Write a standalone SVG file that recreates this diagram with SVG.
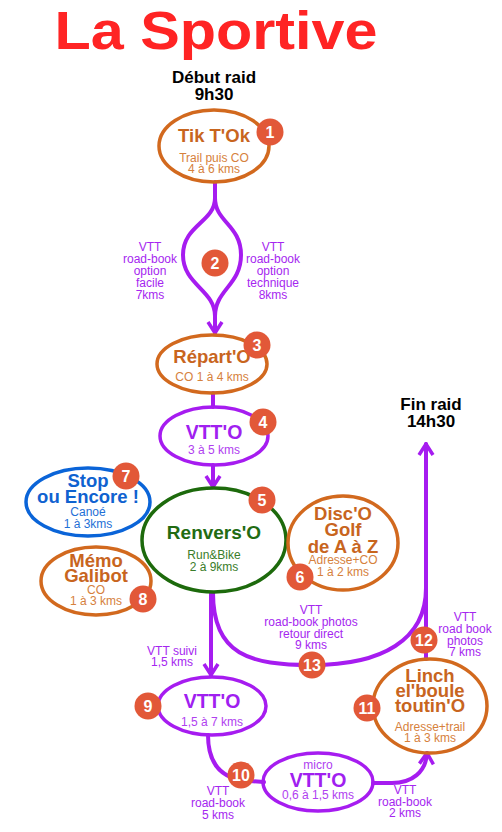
<svg xmlns="http://www.w3.org/2000/svg" width="502" height="832" viewBox="0 0 502 832">
<defs>
<style>
text{font-family:"Liberation Sans",Arial,sans-serif;text-anchor:middle}
.title{font-size:54px;font-weight:bold;fill:#ff2424}
.time{font-size:17px;font-weight:bold;fill:#000}
.nt{font-size:18.5px;font-weight:bold}
.sm{font-size:12px}
.lbl{font-size:12px;fill:#a526f0}
.or{fill:none;stroke:#d2691e;stroke-width:3.5}
.pu{fill:none;stroke:#a61cf0;stroke-width:3.5}
.gr{fill:none;stroke:#1d6a0c;stroke-width:3.5}
.bl{fill:none;stroke:#0a64d8;stroke-width:3.5}
.ot{fill:#c8651e}.os{fill:#d6813c}
.pt{fill:#a020f0}.ps{fill:#b040f0}
.gt{fill:#226b12}.gs{fill:#3a7d2a}
.bt{fill:#0f62d0}.bs{fill:#1e6fd6}
.badge circle{fill:#e25838}
.badge text{font-size:16px;font-weight:bold;fill:#fff}
.con{fill:none;stroke:#a61cf0;stroke-width:4;stroke-linecap:round}
</style>
<marker id="ah" viewBox="-13 -9 15 18" refX="0" refY="0" markerWidth="15" markerHeight="18" markerUnits="userSpaceOnUse" orient="auto">
<path d="M -11 -7 L 0 0 L -11 7" fill="none" stroke="#a61cf0" stroke-width="3.5"/>
</marker>
</defs>
<rect width="502" height="832" fill="#fff"/>
<text class="title" x="216" y="49" textLength="323" lengthAdjust="spacingAndGlyphs">La Sportive</text>
<g id="debut"><text class="time" x="214" y="83">Début raid</text><text class="time" x="214" y="100">9h30</text></g>
<g id="fin"><text class="time" x="431" y="410">Fin raid</text><text class="time" x="431" y="427">14h30</text></g>

<g id="connectors">
<path class="con" d="M 215 182 L 215 198 C 215 222 183 225 183 255 C 183 285 215 290 215 316"/>
<path class="con" d="M 215 198 C 215 222 241 225 241 255 C 241 285 215 290 215 316"/>
<path class="con" d="M 215 316 L 215 333" marker-end="url(#ah)"/>
<path class="con" d="M 213 393 L 213 407"/>
<path class="con" d="M 213 465 L 213 487" marker-end="url(#ah)"/>
<path class="con" d="M 211 593 L 211 675" marker-end="url(#ah)"/>
<path class="con" d="M 213 593 C 213 655 250 665 312 665 C 382 665 426 640 426 588"/>
<path class="con" d="M 426 659 L 426 444" marker-end="url(#ah)"/>
<path class="con" d="M 208 735 C 208 768 225 780 250 781 L 264 782"/>
<path class="con" d="M 373 783 L 392 783 C 412 783 426 772 427 753" marker-end="url(#ah)"/>
<g id="labels">
<text class="lbl" x="150" y="251">VTT</text><text class="lbl" x="150" y="263">road-book</text><text class="lbl" x="150" y="275">option</text><text class="lbl" x="150" y="287">facile</text><text class="lbl" x="150" y="299">7kms</text>
<text class="lbl" x="273" y="251">VTT</text><text class="lbl" x="273" y="263">road-book</text><text class="lbl" x="273" y="275">option</text><text class="lbl" x="273" y="287">technique</text><text class="lbl" x="273" y="299">8kms</text>
<text class="lbl" x="311" y="614">VTT</text><text class="lbl" x="311" y="626">road-book photos</text><text class="lbl" x="311" y="638">retour direct</text><text class="lbl" x="311" y="649">9 kms</text>
<text class="lbl" x="465" y="621">VTT</text><text class="lbl" x="465" y="633">road book</text><text class="lbl" x="465" y="645">photos</text><text class="lbl" x="465" y="656">7 kms</text>
<text class="lbl" x="172" y="655">VTT suivi</text><text class="lbl" x="172" y="666">1,5 kms</text>
<text class="lbl" x="218" y="795">VTT</text><text class="lbl" x="218" y="807">road-book</text><text class="lbl" x="218" y="819">5 kms</text>
<text class="lbl" x="405" y="794">VTT</text><text class="lbl" x="405" y="806">road-book</text><text class="lbl" x="405" y="817">2 kms</text>
</g>
</g>

<g id="n1"><ellipse class="or" cx="214" cy="146" rx="55" ry="36" fill="#fff"/>
<text class="nt ot" x="214" y="142">Tik T'Ok</text><text class="sm os" x="214" y="162">Trail puis CO</text><text class="sm os" x="214" y="173">4 à 6 kms</text>
<g class="badge"><circle cx="270" cy="132" r="13.5"/><text x="270" y="138">1</text></g></g>

<g id="n2"><g class="badge"><circle cx="215" cy="263" r="13.5"/><text x="215" y="269">2</text></g></g>

<g id="n3"><ellipse class="or" cx="212" cy="364" rx="55" ry="29" fill="#fff"/>
<text class="nt ot" x="212" y="363">Répart'O</text><text class="sm os" x="212" y="381">CO 1 à 4 kms</text>
<g class="badge"><circle cx="257" cy="345" r="13.5"/><text x="257" y="351">3</text></g></g>

<g id="n4"><ellipse class="pu" cx="214" cy="436" rx="54" ry="29" fill="#fff"/>
<text class="nt pt" x="214" y="439" style="font-size:19.5px">VTT'O</text><text class="sm ps" x="214" y="454">3 à 5 kms</text>
<g class="badge"><circle cx="263" cy="422" r="13.5"/><text x="263" y="428">4</text></g></g>

<g id="n5"><ellipse class="gr" cx="214" cy="540" rx="72" ry="52" fill="#fff"/>
<text class="nt gt" x="214" y="539" style="font-size:19px">Renvers'O</text><text class="sm gs" x="214" y="559">Run&amp;Bike</text><text class="sm gs" x="214" y="571">2 à 9kms</text>
<g class="badge"><circle cx="262" cy="500" r="13.5"/><text x="262" y="506">5</text></g></g>

<g id="n6"><ellipse class="or" cx="343" cy="543" rx="55" ry="47" fill="#fff"/>
<text class="nt ot" x="343" y="520">Disc'O</text><text class="nt ot" x="343" y="536">Golf</text><text class="nt ot" x="343" y="553">de A à Z</text>
<text class="sm os" x="343" y="564">Adresse+CO</text><text class="sm os" x="343" y="576">1 à 2 kms</text>
<g class="badge"><circle cx="300" cy="577" r="13.5"/><text x="300" y="583">6</text></g></g>

<g id="n7"><ellipse class="bl" cx="88" cy="502" rx="62" ry="34" fill="#fff"/>
<text class="nt bt" x="88" y="487">Stop</text><text class="nt bt" x="88" y="503">ou Encore !</text>
<text class="sm bs" x="88" y="516">Canoé</text><text class="sm bs" x="88" y="528">1 à 3kms</text>
<g class="badge"><circle cx="126" cy="476" r="13.5"/><text x="126" y="482">7</text></g></g>

<g id="n8"><ellipse class="or" cx="96" cy="581" rx="55" ry="34" fill="#fff"/>
<text class="nt ot" x="96" y="567">Mémo</text><text class="nt ot" x="96" y="582">Galibot</text>
<text class="sm os" x="96" y="594">CO</text><text class="sm os" x="96" y="605">1 à 3 kms</text>
<g class="badge"><circle cx="143" cy="599" r="13.5"/><text x="143" y="605">8</text></g></g>

<g id="n9"><ellipse class="pu" cx="212" cy="706" rx="54" ry="29" fill="#fff"/>
<text class="nt pt" x="212" y="708" style="font-size:19.5px">VTT'O</text><text class="sm ps" x="212" y="726">1,5 à 7 kms</text>
<g class="badge"><circle cx="148" cy="706" r="13.5"/><text x="148" y="712">9</text></g></g>

<g id="n10"><g class="badge"><circle cx="241" cy="775" r="13.5"/><text x="241" y="781">10</text></g></g>

<g id="n10b"><ellipse class="pu" cx="318" cy="782" rx="55" ry="29" fill="#fff"/>
<text class="sm ps" x="318" y="769">micro</text><text class="nt pt" x="318" y="787" style="font-size:19.5px">VTT'O</text><text class="sm ps" x="318" y="799">0,6 à 1,5 kms</text></g>

<g id="n11"><ellipse class="or" cx="430" cy="706" rx="57" ry="47" fill="#fff"/>
<text class="nt ot" x="430" y="682">Linch</text><text class="nt ot" x="430" y="697">el'boule</text><text class="nt ot" x="430" y="712">toutin'O</text>
<text class="sm os" x="430" y="731">Adresse+trail</text><text class="sm os" x="430" y="742">1 à 3 kms</text>
<g class="badge"><circle cx="367" cy="708" r="13.5"/><text x="367" y="714">11</text></g></g>

<g id="n12"><g class="badge"><circle cx="424" cy="640" r="13.5"/><text x="424" y="646">12</text></g></g>
<g id="n13"><g class="badge"><circle cx="312" cy="665" r="13.5"/><text x="312" y="671">13</text></g></g>
</svg>
